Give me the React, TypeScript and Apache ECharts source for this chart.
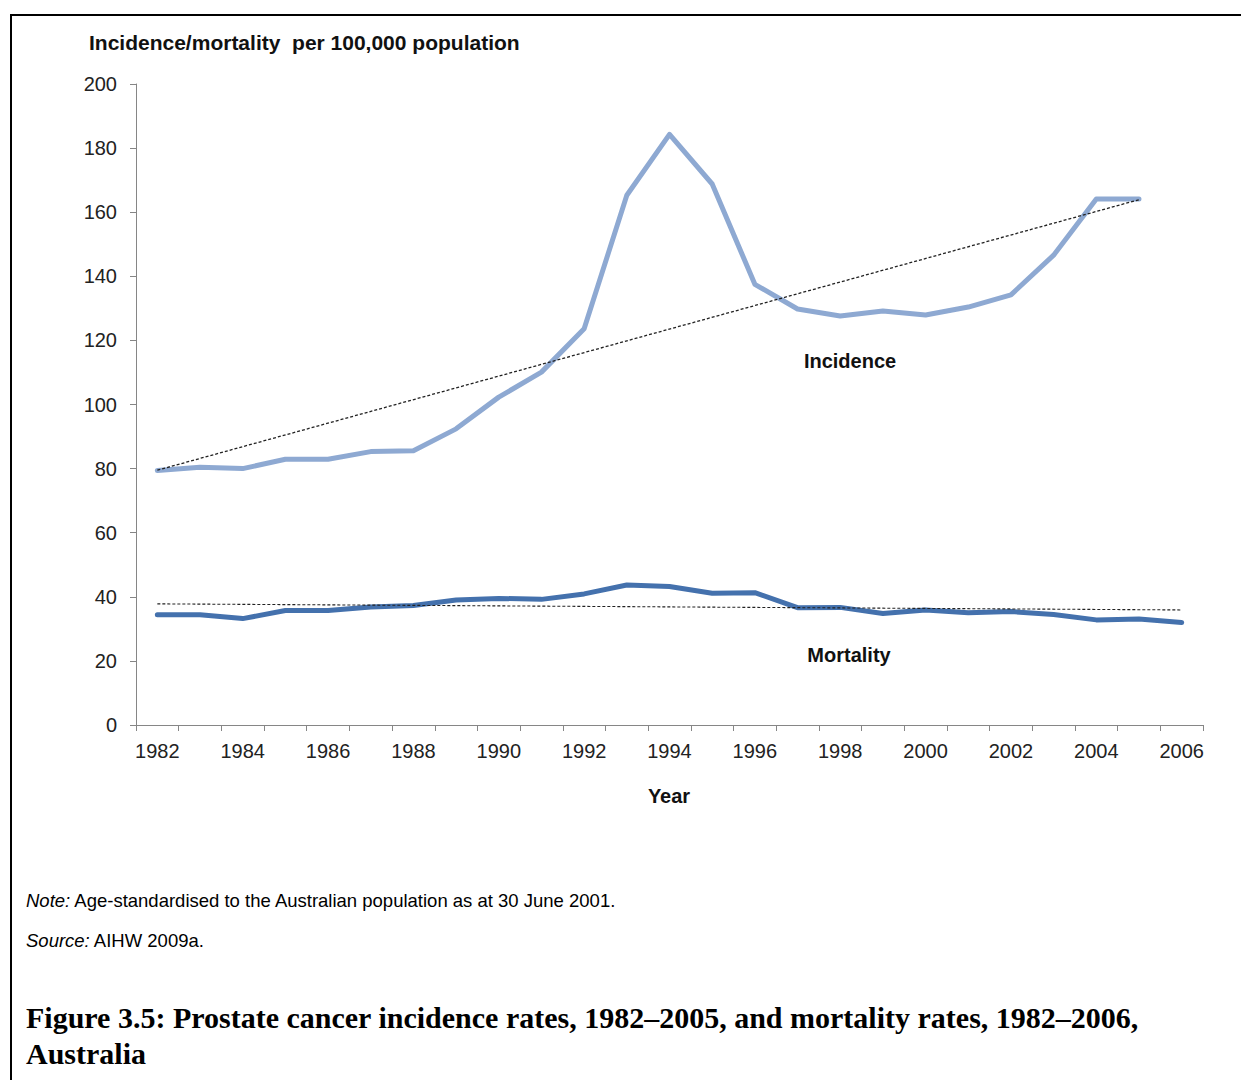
import React, { useEffect, useRef } from "react";
import * as echarts from "echarts";

const years = [
  "1982", "1983", "1984", "1985", "1986", "1987", "1988", "1989", "1990", "1991",
  "1992", "1993", "1994", "1995", "1996", "1997", "1998", "1999", "2000", "2001",
  "2002", "2003", "2004", "2005", "2006",
];

// Incidence 1982–2005
const incidence = [
  79.4, 80.4, 80.0, 82.9, 82.9, 85.3, 85.6, 92.4, 102.3, 110.1,
  123.6, 165.3, 184.3, 168.8, 137.5, 129.8, 127.6, 129.2, 127.9, 130.4,
  134.2, 146.6, 164.1, 164.1,
];

// Mortality 1982–2006
const mortality = [
  34.4, 34.4, 33.2, 35.7, 35.7, 36.8, 37.3, 39.0, 39.5, 39.2,
  40.9, 43.7, 43.2, 41.1, 41.3, 36.6, 36.7, 34.8, 35.9, 35.0,
  35.4, 34.5, 32.8, 33.1, 32.0,
];

// Linear trend end points
const incidenceTrend: [string, number][] = [["1982", 79.5], ["2005", 163.9]];
const mortalityTrend: [string, number][] = [["1982", 37.8], ["2006", 35.9]];

const yTicks = { min: 0, max: 200, interval: 20 };

const SANS = "'Liberation Sans', Arial, sans-serif";
const SERIF = "'Liberation Serif', 'Times New Roman', serif";

export default function App() {
  const ref = useRef<HTMLDivElement>(null);
  useEffect(() => {
    if (!ref.current) return;
    const chart = echarts.init(ref.current, null, { renderer: "svg" });
    const axisColor = "#868686";
    chart.setOption({
      animation: false,
      backgroundColor: "#ffffff",
      grid: { left: 136, right: 38, top: 84, bottom: 355 },
      xAxis: {
        type: "category",
        data: years,
        boundaryGap: true,
        axisLine: { show: true, lineStyle: { color: axisColor, width: 1 } },
        axisTick: { show: true, interval: 0, length: 6, lineStyle: { color: axisColor } },
        axisLabel: {
          interval: 1,
          margin: 16,
          color: "#222",
          fontFamily: SANS,
          fontSize: 20,
        },
        splitLine: { show: false },
      },
      yAxis: {
        type: "value",
        min: yTicks.min,
        max: yTicks.max,
        interval: yTicks.interval,
        axisLine: { show: true, lineStyle: { color: axisColor, width: 1 } },
        axisTick: { show: true, length: 6, lineStyle: { color: axisColor } },
        axisLabel: {
          margin: 19,
          color: "#222",
          fontFamily: SANS,
          fontSize: 20,
        },
        splitLine: { show: false },
      },
      series: [
        {
          name: "Incidence",
          type: "line",
          data: incidence,
          symbol: "none",
          lineStyle: { color: "#8EA9D2", width: 5, cap: "round", join: "round" },
          z: 3,
        },
        {
          name: "Mortality",
          type: "line",
          data: mortality,
          symbol: "none",
          lineStyle: { color: "#4471AD", width: 5, cap: "round", join: "round" },
          z: 3,
        },
        {
          name: "Incidence trend",
          type: "line",
          data: incidenceTrend,
          symbol: "none",
          lineStyle: { color: "#222", width: 1.3, type: [3, 2] },
          z: 4,
        },
        {
          name: "Mortality trend",
          type: "line",
          data: mortalityTrend,
          symbol: "none",
          lineStyle: { color: "#222", width: 1.1, type: [3, 2] },
          z: 4,
        },
      ],
      graphic: [
        {
          type: "rect",
          shape: { x: 11, y: 15, width: 1260, height: 1100 },
          style: { fill: "none", stroke: "#000", lineWidth: 2 },
          z: 10,
        },
        {
          type: "text",
          x: 89,
          y: 42,
          style: {
            text: "Incidence/mortality  per 100,000 population",
            font: `bold 21px ${SANS}`,
            fill: "#111",
            verticalAlign: "middle",
          },
        },
        {
          type: "text",
          x: 669,
          y: 796,
          style: { text: "Year", font: `bold 20px ${SANS}`, fill: "#111", align: "center", verticalAlign: "middle" },
        },
        {
          type: "text",
          x: 850,
          y: 361,
          style: { text: "Incidence", font: `bold 20px ${SANS}`, fill: "#111", align: "center", verticalAlign: "middle" },
        },
        {
          type: "text",
          x: 849,
          y: 655,
          style: { text: "Mortality", font: `bold 20px ${SANS}`, fill: "#111", align: "center", verticalAlign: "middle" },
        },
        {
          type: "text",
          x: 26,
          y: 900,
          style: {
            text: "{i|Note:} Age-standardised to the Australian population as at 30 June 2001.",
            font: `18.5px ${SANS}`,
            fill: "#000",
            verticalAlign: "middle",
            rich: { i: { fontStyle: "italic", fontFamily: SANS, fontSize: 18.5 } },
          },
        },
        {
          type: "text",
          x: 26,
          y: 940,
          style: {
            text: "{i|Source:} AIHW 2009a.",
            font: `18.5px ${SANS}`,
            fill: "#000",
            verticalAlign: "middle",
            rich: { i: { fontStyle: "italic", fontFamily: SANS, fontSize: 18.5 } },
          },
        },
        {
          type: "text",
          x: 26,
          y: 1017,
          style: {
            text: "Figure 3.5: Prostate cancer incidence rates, 1982–2005, and mortality rates, 1982–2006,",
            font: `bold 30px ${SERIF}`,
            fill: "#000",
            verticalAlign: "middle",
          },
        },
        {
          type: "text",
          x: 26,
          y: 1053,
          style: {
            text: "Australia",
            font: `bold 30px ${SERIF}`,
            fill: "#000",
            verticalAlign: "middle",
          },
        },
      ],
    });
    return () => chart.dispose();
  }, []);
  return (
    <div
      ref={ref}
      style={{ position: "absolute", left: 0, top: 0, width: 1241, height: 1080, background: "#fff" }}
    />
  );
}
